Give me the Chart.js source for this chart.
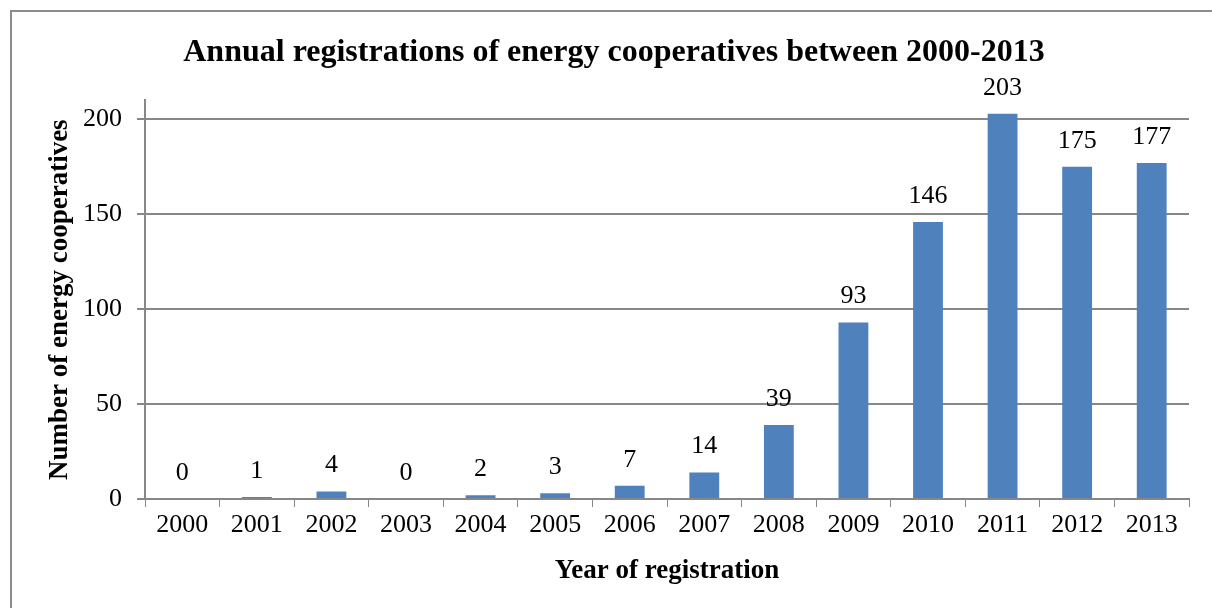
<!DOCTYPE html>
<html lang="en">
<head>
    <meta charset="UTF-8">
    <title>Annual registrations of energy cooperatives</title>
    <script src="https://cdn.jsdelivr.net/npm/chart.js"></script>
    <style>
        html, body { margin: 0; padding: 0; background: #fff; overflow: hidden; }
        .frame { position: absolute; left: 10px; top: 10px; width: 1400px; height: 800px; border: 2px solid #8c8c8c; }
        .wrap { position: absolute; left: 0; top: 0; width: 1212px; height: 608px; }
    </style>
</head>
<body>
    <div class="frame"></div>
    <div class="wrap"><canvas id="chart"></canvas></div>
    <script>
        const years = ['2000', '2001', '2002', '2003', '2004', '2005', '2006', '2007', '2008', '2009', '2010', '2011', '2012', '2013'];
        const registrations = [0, 1, 4, 0, 2, 3, 7, 14, 39, 93, 146, 203, 175, 177];
        const yTicks = [0, 50, 100, 150, 200];

        const serif = "'Liberation Serif', 'Times New Roman', serif";
        const gridGray = '#878787';

        // value labels above each bar
        const barLabels = {
            id: 'barLabels',
            afterDatasetsDraw(chart) {
                const ctx = chart.ctx;
                const meta = chart.getDatasetMeta(0);
                ctx.save();
                ctx.font = '26px ' + serif;
                ctx.fillStyle = '#000';
                ctx.textAlign = 'center';
                ctx.textBaseline = 'middle';
                meta.data.forEach((bar, i) => {
                    ctx.fillText(String(registrations[i]), bar.x, bar.y - 26);
                });
                ctx.restore();
            }
        };

        new Chart(document.getElementById('chart'), {
            type: 'bar',
            data: {
                labels: years,
                datasets: [{
                    data: registrations,
                    backgroundColor: '#4f81bd',
                    barPercentage: 0.8,
                    categoryPercentage: 0.5
                }]
            },
            options: {
                responsive: true,
                maintainAspectRatio: false,
                animation: false,
                layout: { padding: { left: 39, right: 23, top: 0, bottom: 0 } },
                plugins: {
                    legend: { display: false },
                    tooltip: { enabled: false },
                    title: {
                        display: true,
                        text: 'Annual registrations of energy cooperatives between 2000-2013',
                        color: '#000',
                        font: { family: serif, size: 32, weight: 'bold' },
                        padding: { top: 34, bottom: 28 }
                    }
                },
                scales: {
                    x: {
                        offset: true,
                        grid: { offset: true, drawOnChartArea: false, drawTicks: true, tickLength: 8, color: gridGray },
                        border: { color: gridGray, width: 2 },
                        ticks: { color: '#000', font: { family: serif, size: 26 }, padding: 3, maxRotation: 0 },
                        title: {
                            display: true,
                            text: 'Year of registration',
                            color: '#000',
                            font: { family: serif, size: 27, weight: 'bold' },
                            padding: { top: 0, bottom: 21 }
                        },
                        afterFit(scale) { scale.height = 109; }
                    },
                    y: {
                        min: 0,
                        max: 210,
                        afterBuildTicks(scale) { scale.ticks = yTicks.map(v => ({ value: v })); },
                        grid: { color: gridGray, lineWidth: 2, tickLength: 8 },
                        border: { color: gridGray, width: 2 },
                        ticks: { color: '#000', font: { family: serif, size: 26 }, padding: 15 },
                        title: {
                            display: true,
                            text: 'Number of energy cooperatives',
                            color: '#000',
                            font: { family: serif, size: 27, weight: 'bold' },
                            padding: { top: 5, bottom: 0 }
                        },
                        afterFit(scale) { scale.width = 106; }
                    }
                }
            },
            plugins: [barLabels]
        });
    </script>
</body>
</html>
